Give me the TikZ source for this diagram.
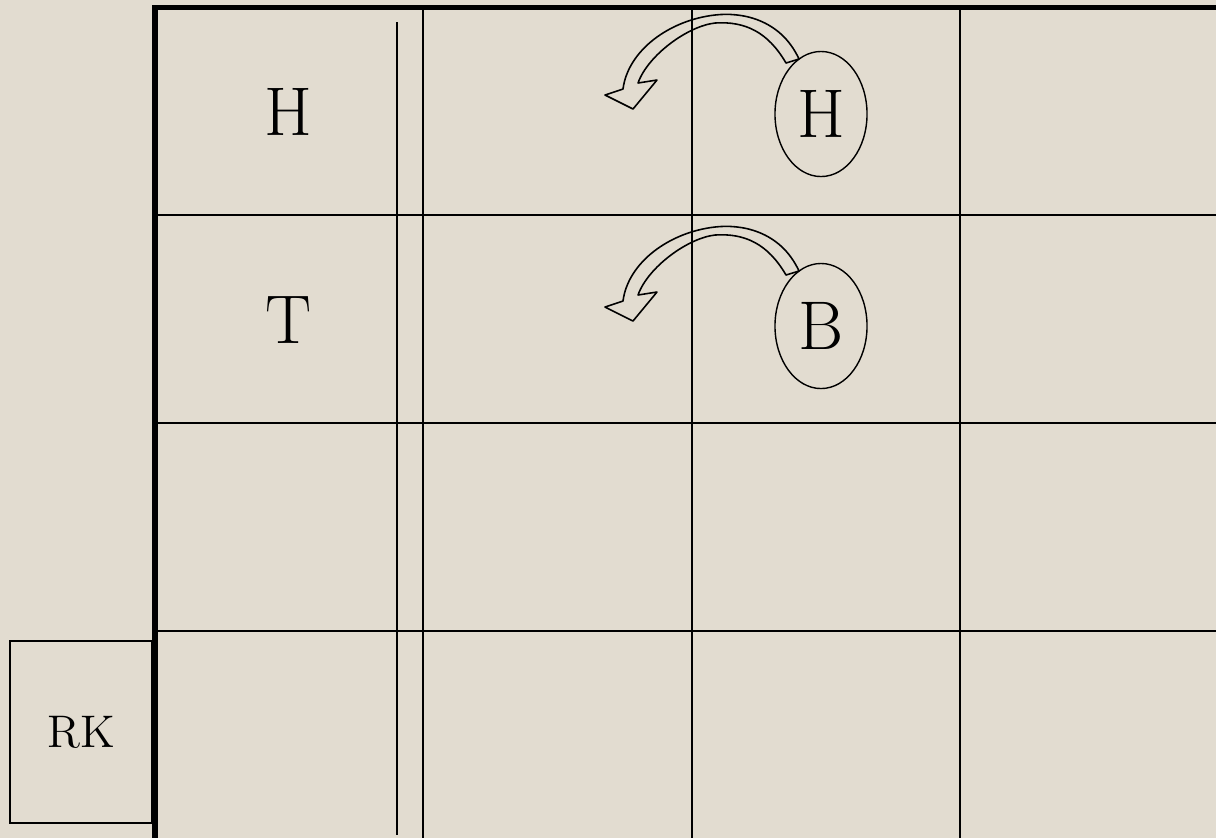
\documentclass[tikz,border=0pt]{standalone}
\usetikzlibrary{shapes.geometric}
\definecolor{paper}{RGB}{226,220,208}

\begin{document}
\begin{tikzpicture}[
    x=0.01cm, y=-0.01cm,
    frameline/.style={draw=black, line width=1.45pt},
    gridline/.style={draw=black, line width=0.6pt},
    letter/.style={inner sep=0pt, font=\fontsize{19.6}{24}\selectfont},
    ringed/.style={ellipse, draw=black, line width=0.4pt, inner sep=0pt, minimum width=0.92cm, minimum height=1.25cm, font=\fontsize{19.6}{24}\selectfont},
    tagbox/.style={rectangle, draw=black, line width=0.4pt, minimum width=1.42cm, minimum height=1.82cm, font=\fontsize{13}{15}\selectfont},
    turn/.style={draw=black, line width=0.45pt, line join=round}
  ]

    % Page
    \path[use as bounding box, fill=paper] (0,0) rectangle (1216,838);

    % Grid
    \draw[frameline] (1216,7.5) -- (155,7.5) -- (155,838);
    \foreach \y in {215,423,631}
      \draw[gridline] (155,\y) -- (1216,\y);
    \foreach \x in {423,692,960}
      \draw[gridline] (\x,7.5) -- (\x,838);
    \draw[black, line width=0.4pt] (397,22) -- (397,835);

    % Row labels
    \node[letter] (headrow) at (288,112) {H};
    \node[letter] (tailrow) at (289,320) {T};

    % Circled letters
    \node[ringed] (headring) at (821,114) {H};
    \node[ringed] (bodyring) at (821,326) {B};

    % Curved arrows
    \foreach \dy in {0,212}
      \draw[turn, shift={(0,\dy)}] (799,59) .. controls (780,18) and (740,12) .. (715,15)
        .. controls (670,20) and (628,50) .. (623,89)
        -- (605,95) -- (633,109) -- (657,80) -- (638,83)
        .. controls (648,55) and (688,26) .. (715,23)
        .. controls (745,21) and (768,32) .. (786,63) -- cycle;

    % Corner box
    \node[tagbox] (rk) at (81,732) {RK};

  \end{tikzpicture}
\end{document}
